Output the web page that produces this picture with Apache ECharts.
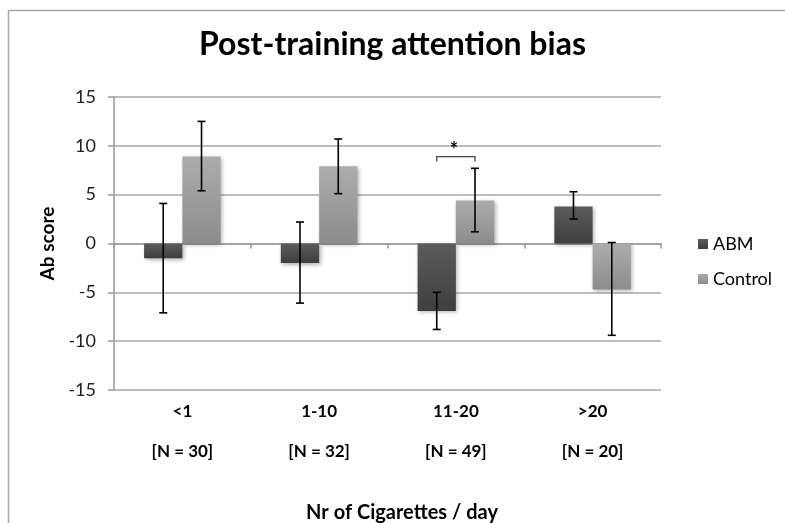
<!DOCTYPE html>
<html>
<head>
<meta charset="utf-8">
<script src="https://cdn.jsdelivr.net/npm/echarts@6/dist/echarts.min.js"></script>
<style>
  html, body { margin: 0; padding: 0; background: #fff; }
  #chart { width: 785px; height: 523px; }
</style>
</head>
<body>
<div id="chart"></div>
<script>
// Smoking groups and their sample sizes
const categories = ['<1', '1-10', '11-20', '>20'];
const groupSizes = [30, 32, 49, 20];

// Mean attention-bias scores per group
const abmMean = [-1.5, -2.0, -6.9, 3.8];
const controlMean = [8.9, 7.9, 4.4, -4.7];

// Error bar ends (low / high)
const abmLow = [-7.1, -6.1, -8.8, 2.5];
const abmHigh = [4.1, 2.2, -5.0, 5.3];
const controlLow = [5.4, 5.1, 1.2, -9.4];
const controlHigh = [12.5, 10.7, 7.7, 0.1];

// Significance bracket for the 11-20 group: [category, bracket level, tick end, star level]
const sigBracket = [[2, 8.9, 8.4, 9.9]];

const yTicks = [-15, -10, -5, 0, 5, 10, 15];

const FONT = 'Lato';
const CAT_GAP = 0.44;

const abmColor = new echarts.graphic.LinearGradient(0, 0, 0, 1, [
  { offset: 0, color: '#5c5c5c' }, { offset: 1, color: '#3e3e3e' }
]);
const controlColor = new echarts.graphic.LinearGradient(0, 0, 0, 1, [
  { offset: 0, color: '#acacac' }, { offset: 1, color: '#8c8c8c' }
]);

function barWidthPx(api) {
  return api.size([1, 0])[0] * (1 - CAT_GAP) / 2;
}

function errorBarRenderer(side) {
  return function (params, api) {
    const idx = api.value(0);
    const bw = barWidthPx(api);
    const lo = api.coord([idx, api.value(1)]);
    const hi = api.coord([idx, api.value(2)]);
    const x = lo[0] + side * bw / 2;
    const cap = 4;
    const style = { stroke: '#000', lineWidth: 1.6 };
    return {
      type: 'group',
      children: [
        { type: 'line', shape: { x1: x, y1: hi[1], x2: x, y2: lo[1] }, style },
        { type: 'line', shape: { x1: x - cap, y1: hi[1], x2: x + cap, y2: hi[1] }, style },
        { type: 'line', shape: { x1: x - cap, y1: lo[1], x2: x + cap, y2: lo[1] }, style }
      ]
    };
  };
}

const chart = echarts.init(document.getElementById('chart'));

chart.setOption({
  animation: false,
  backgroundColor: '#fff',
  textStyle: { fontFamily: FONT },
  title: {
    text: 'Post-training attention bias',
    left: 'center',
    top: 24,
    textStyle: { fontFamily: FONT, fontSize: 32, fontWeight: 'bold', color: '#000' }
  },
  legend: {
    orient: 'vertical',
    left: 693,
    top: 230,
    itemWidth: 10,
    itemHeight: 10,
    itemGap: 17,
    icon: 'rect',
    textStyle: { fontFamily: FONT, fontSize: 18, color: '#000' },
    data: ['ABM', 'Control']
  },
  grid: { left: 114, right: 124, top: 97, bottom: 133 },
  xAxis: [
    {
      type: 'category',
      data: categories,
      axisLine: { onZero: true, lineStyle: { color: '#9a9a9a', width: 1.5 } },
      axisTick: { show: true, length: 5, lineStyle: { color: '#9a9a9a', width: 1.5 } },
      axisLabel: { show: false },
      splitLine: { show: false }
    },
    {
      type: 'category',
      data: categories,
      position: 'bottom',
      axisLine: { show: false },
      axisTick: { show: false },
      axisLabel: {
        margin: 2,
        formatter: function (value, i) {
          return '{a|' + value + '}\n{b|[N = ' + groupSizes[i] + ']}';
        },
        rich: {
          a: { fontFamily: FONT, fontSize: 17, fontWeight: 'bold', color: '#000', lineHeight: 40 },
          b: { fontFamily: FONT, fontSize: 17, fontWeight: 'bold', color: '#000', lineHeight: 40 }
        }
      }
    }
  ],
  yAxis: {
    type: 'value',
    min: -15,
    max: 15,
    interval: 5,
    name: 'Ab score',
    nameLocation: 'middle',
    nameRotate: 90,
    nameGap: 57,
    nameTextStyle: { fontFamily: FONT, fontSize: 19, fontWeight: 'bold', color: '#000' },
    axisLine: { show: true, lineStyle: { color: '#9a9a9a', width: 1.5 } },
    axisTick: { show: true, length: 6, lineStyle: { color: '#9a9a9a', width: 1.5 } },
    axisLabel: {
      margin: 18,
      fontFamily: FONT,
      fontSize: 18,
      color: '#222',
      formatter: function (v) { return yTicks.indexOf(v) >= 0 ? String(v) : ''; }
    },
    splitLine: { lineStyle: { color: '#a8a8a8', width: 1.5 } }
  },
  graphic: [
    {
      type: 'rect',
      shape: { x: 8.5, y: 10.5, width: 900, height: 700 },
      style: { fill: 'none', stroke: '#a8a8a8', lineWidth: 1.5 },
      silent: true,
      z: -1
    },
    {
      type: 'text',
      x: 402,
      y: 513,
      style: {
        text: 'Nr of Cigarettes / day',
        fontFamily: FONT,
        fontSize: 20,
        fontWeight: 'bold',
        fill: '#000',
        align: 'center',
        verticalAlign: 'middle'
      }
    }
  ],
  series: [
    {
      name: 'ABM',
      type: 'bar',
      data: abmMean,
      barGap: '0%',
      barCategoryGap: (CAT_GAP * 100) + '%',
      itemStyle: {
        color: abmColor,
        shadowBlur: 4,
        shadowOffsetX: 1.5,
        shadowOffsetY: 1.5,
        shadowColor: 'rgba(0,0,0,0.3)'
      },
      z: 2
    },
    {
      name: 'Control',
      type: 'bar',
      data: controlMean,
      barGap: '0%',
      barCategoryGap: (CAT_GAP * 100) + '%',
      itemStyle: {
        color: controlColor,
        shadowBlur: 4,
        shadowOffsetX: 1.5,
        shadowOffsetY: 1.5,
        shadowColor: 'rgba(0,0,0,0.3)'
      },
      z: 2
    },
    {
      name: 'ABM error',
      type: 'custom',
      renderItem: errorBarRenderer(-1),
      data: categories.map((c, i) => [i, abmLow[i], abmHigh[i]]),
      z: 5,
      silent: true
    },
    {
      name: 'Control error',
      type: 'custom',
      renderItem: errorBarRenderer(1),
      data: categories.map((c, i) => [i, controlLow[i], controlHigh[i]]),
      z: 5,
      silent: true
    },
    {
      name: 'Significance',
      type: 'custom',
      silent: true,
      z: 5,
      data: sigBracket,
      renderItem: function (params, api) {
        const idx = api.value(0);
        const bw = barWidthPx(api);
        const top = api.coord([idx, api.value(1)]);
        const end = api.coord([idx, api.value(2)]);
        const star = api.coord([idx, api.value(3)]);
        const x1 = top[0] - bw / 2;
        const x2 = top[0] + bw / 2;
        return {
          type: 'group',
          children: [
            {
              type: 'polyline',
              shape: { points: [[x1, end[1]], [x1, top[1]], [x2, top[1]], [x2, end[1]]] },
              style: { stroke: '#444', lineWidth: 1.3, fill: 'none' }
            },
            {
              type: 'text',
              x: top[0] - 2,
              y: star[1] + 4,
              style: {
                text: '*',
                fontFamily: FONT,
                fontSize: 20,
                fontWeight: 'bold',
                fill: '#000',
                align: 'center',
                verticalAlign: 'middle'
              }
            }
          ]
        };
      }
    }
  ]
});
</script>
</body>
</html>
